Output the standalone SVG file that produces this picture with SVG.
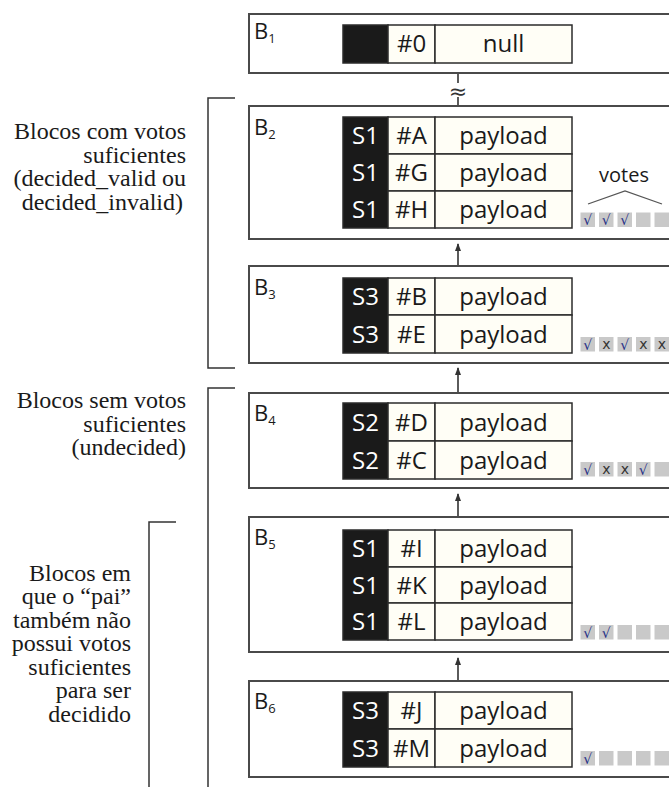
<svg xmlns="http://www.w3.org/2000/svg" width="669" height="787" viewBox="0 0 669 787">
  <style>
    .box { fill: #ffffff; stroke: #4a4a4a; stroke-width: 2; }
    .cell { fill: #fffef6; stroke: #2b2b2b; stroke-width: 1.5; }
    .srv { fill: #1a1a1a; stroke: #2b2b2b; stroke-width: 1.5; }
    .t { font-family: "Open Sans", "Noto Sans", sans-serif; font-size: 24px; fill: #1a1a1a; text-anchor: middle; }
    .tw { font-family: "Open Sans", "Noto Sans", sans-serif; font-size: 24px; fill: #ffffff; text-anchor: middle; }
    .lbl { font-family: "Open Sans", "Noto Sans", sans-serif; font-size: 22px; fill: #1a1a1a; }
    .sub { font-size: 13px; }
    .vote { fill: #c9c9c9; }
    .ok { font-family: "DejaVu Sans", sans-serif; font-size: 14px; fill: #1f2f86; text-anchor: middle; }
    .no { font-family: "DejaVu Sans", sans-serif; font-size: 14px; fill: #333333; text-anchor: middle; }
    .note { font-family: "Liberation Serif", "Times New Roman", serif; font-size: 24px; fill: #1a1a1a; text-anchor: end; }
    .wire { stroke: #333333; stroke-width: 1.6; fill: none; }
    .brace { stroke: #333333; stroke-width: 1.5; fill: none; }
  </style>
  <defs>
    <marker id="head" markerWidth="10" markerHeight="10" refX="7" refY="3.5" orient="auto" markerUnits="userSpaceOnUse">
      <path d="M0,0.5 L8,3.5 L0,6.5 z" fill="#333333"/>
    </marker>
  </defs>

  <rect width="669" height="787" fill="#ffffff"/>

  <!-- side notes with brackets -->
  <g id="note-decided">
    <path class="brace" d="M235,98 H208 V368 H235"/>
    <text class="note" x="186" y="139">Blocos com votos</text>
    <text class="note" x="186" y="163">suficientes</text>
    <text class="note" x="186" y="186">(decided_valid ou</text>
    <text class="note" x="183" y="210">decided_invalid)</text>
  </g>
  <g id="note-undecided">
    <path class="brace" d="M235,388 H208 V790"/>
    <text class="note" x="186" y="408">Blocos sem votos</text>
    <text class="note" x="186" y="432">suficientes</text>
    <text class="note" x="186" y="455">(undecided)</text>
  </g>
  <g id="note-parent">
    <path class="brace" d="M176,522 H149 V790"/>
    <text class="note" x="131" y="581">Blocos em</text>
    <text class="note" x="131" y="604">que o “pai”</text>
    <text class="note" x="131" y="628">também não</text>
    <text class="note" x="131" y="651">possui votos</text>
    <text class="note" x="131" y="675">suficientes</text>
    <text class="note" x="131" y="698">para ser</text>
    <text class="note" x="131" y="722">decidido</text>
  </g>

  <!-- links between blocks -->
  <g id="connectors">
    <line class="wire" x1="458" y1="73" x2="458" y2="83"/>
    <text x="458" y="99" font-family="DejaVu Sans, sans-serif" font-size="22" fill="#333333" text-anchor="middle">≈</text>
    <line class="wire" x1="458" y1="97" x2="458" y2="106"/>
    <line class="wire" x1="458" y1="266" x2="458" y2="244" marker-end="url(#head)"/>
    <line class="wire" x1="458" y1="393" x2="458" y2="368" marker-end="url(#head)"/>
    <line class="wire" x1="458" y1="517" x2="458" y2="494" marker-end="url(#head)"/>
    <line class="wire" x1="458" y1="681" x2="458" y2="658" marker-end="url(#head)"/>
  </g>

  <!-- B1 -->
  <g id="B1">
    <rect class="box" x="249" y="14" width="470" height="59"/>
    <text class="lbl" x="254" y="39">B<tspan class="sub" dy="4">1</tspan></text>
    <rect class="srv" x="343" y="25" width="45" height="38"/>
    <rect class="cell" x="388" y="25" width="47" height="38"/>
    <rect class="cell" x="435" y="25" width="137" height="38"/>
    <text class="t" x="411.5" y="52">#0</text>
    <text class="t" x="503.5" y="52">null</text>
  </g>

  <!-- B2 -->
  <g id="B2">
    <rect class="box" x="249" y="106" width="470" height="133"/>
    <text class="lbl" x="254" y="135">B<tspan class="sub" dy="4">2</tspan></text>
    <rect class="srv" x="343" y="117" width="45" height="111"/>
    <rect class="cell" x="388" y="117" width="47" height="37"/>
    <rect class="cell" x="435" y="117" width="137" height="37"/>
    <rect class="cell" x="388" y="154" width="47" height="37"/>
    <rect class="cell" x="435" y="154" width="137" height="37"/>
    <rect class="cell" x="388" y="191" width="47" height="37"/>
    <rect class="cell" x="435" y="191" width="137" height="37"/>
    <text class="tw" x="365.5" y="144">S1</text><text class="t" x="411.5" y="144">#A</text><text class="t" x="503.5" y="144">payload</text>
    <text class="tw" x="365.5" y="181">S1</text><text class="t" x="411.5" y="181">#G</text><text class="t" x="503.5" y="181">payload</text>
    <text class="tw" x="365.5" y="218">S1</text><text class="t" x="411.5" y="218">#H</text><text class="t" x="503.5" y="218">payload</text>
    <text x="624" y="182" font-family="Open Sans, Noto Sans, sans-serif" font-size="20" fill="#1a1a1a" text-anchor="middle">votes</text>
    <path d="M588,204 L625,191 L662,204" stroke="#555555" stroke-width="1.3" fill="none"/>
    <rect class="vote" x="580.5" y="212.5" width="14.5" height="14.5"/>
    <rect class="vote" x="599" y="212.5" width="14.5" height="14.5"/>
    <rect class="vote" x="617.5" y="212.5" width="14.5" height="14.5"/>
    <rect class="vote" x="636" y="212.5" width="14.5" height="14.5"/>
    <rect class="vote" x="654.5" y="212.5" width="14.5" height="14.5"/>
    <text class="ok" x="587.8" y="225">√</text>
    <text class="ok" x="606.3" y="225">√</text>
    <text class="ok" x="624.8" y="225">√</text>
  </g>

  <!-- B3 -->
  <g id="B3">
    <rect class="box" x="249" y="266" width="470" height="97"/>
    <text class="lbl" x="254" y="295">B<tspan class="sub" dy="4">3</tspan></text>
    <rect class="srv" x="343" y="278" width="45" height="75"/>
    <rect class="cell" x="388" y="278" width="47" height="37"/>
    <rect class="cell" x="435" y="278" width="137" height="37"/>
    <rect class="cell" x="388" y="315" width="47" height="38"/>
    <rect class="cell" x="435" y="315" width="137" height="38"/>
    <text class="tw" x="365.5" y="305">S3</text><text class="t" x="411.5" y="305">#B</text><text class="t" x="503.5" y="305">payload</text>
    <text class="tw" x="365.5" y="343">S3</text><text class="t" x="411.5" y="343">#E</text><text class="t" x="503.5" y="343">payload</text>
    <rect class="vote" x="580.5" y="337" width="14.5" height="14.5"/>
    <rect class="vote" x="599" y="337" width="14.5" height="14.5"/>
    <rect class="vote" x="617.5" y="337" width="14.5" height="14.5"/>
    <rect class="vote" x="636" y="337" width="14.5" height="14.5"/>
    <rect class="vote" x="654.5" y="337" width="14.5" height="14.5"/>
    <text class="ok" x="587.8" y="349.5">√</text>
    <text class="no" x="606.3" y="349">x</text>
    <text class="ok" x="624.8" y="349.5">√</text>
    <text class="no" x="643.3" y="349">x</text>
    <text class="no" x="661.8" y="349">x</text>
  </g>

  <!-- B4 -->
  <g id="B4">
    <rect class="box" x="249" y="393" width="470" height="95"/>
    <text class="lbl" x="254" y="421">B<tspan class="sub" dy="4">4</tspan></text>
    <rect class="srv" x="343" y="403" width="45" height="76"/>
    <rect class="cell" x="388" y="403" width="47" height="38"/>
    <rect class="cell" x="435" y="403" width="137" height="38"/>
    <rect class="cell" x="388" y="441" width="47" height="38"/>
    <rect class="cell" x="435" y="441" width="137" height="38"/>
    <text class="tw" x="365.5" y="431">S2</text><text class="t" x="411.5" y="431">#D</text><text class="t" x="503.5" y="431">payload</text>
    <text class="tw" x="365.5" y="469">S2</text><text class="t" x="411.5" y="469">#C</text><text class="t" x="503.5" y="469">payload</text>
    <rect class="vote" x="580.5" y="462" width="14.5" height="14.5"/>
    <rect class="vote" x="599" y="462" width="14.5" height="14.5"/>
    <rect class="vote" x="617.5" y="462" width="14.5" height="14.5"/>
    <rect class="vote" x="636" y="462" width="14.5" height="14.5"/>
    <rect class="vote" x="654.5" y="462" width="14.5" height="14.5"/>
    <text class="ok" x="587.8" y="474.5">√</text>
    <text class="no" x="606.3" y="474">x</text>
    <text class="no" x="624.8" y="474">x</text>
    <text class="ok" x="643.3" y="474.5">√</text>
  </g>

  <!-- B5 -->
  <g id="B5">
    <rect class="box" x="249" y="517" width="470" height="135"/>
    <text class="lbl" x="254" y="545">B<tspan class="sub" dy="4">5</tspan></text>
    <rect class="srv" x="343" y="530" width="45" height="110"/>
    <rect class="cell" x="388" y="530" width="47" height="37"/>
    <rect class="cell" x="435" y="530" width="137" height="37"/>
    <rect class="cell" x="388" y="567" width="47" height="36"/>
    <rect class="cell" x="435" y="567" width="137" height="36"/>
    <rect class="cell" x="388" y="603" width="47" height="37"/>
    <rect class="cell" x="435" y="603" width="137" height="37"/>
    <text class="tw" x="365.5" y="557">S1</text><text class="t" x="411.5" y="557">#I</text><text class="t" x="503.5" y="557">payload</text>
    <text class="tw" x="365.5" y="593.5">S1</text><text class="t" x="411.5" y="593.5">#K</text><text class="t" x="503.5" y="593.5">payload</text>
    <text class="tw" x="365.5" y="630">S1</text><text class="t" x="411.5" y="630">#L</text><text class="t" x="503.5" y="630">payload</text>
    <rect class="vote" x="580.5" y="625" width="14.5" height="14.5"/>
    <rect class="vote" x="599" y="625" width="14.5" height="14.5"/>
    <rect class="vote" x="617.5" y="625" width="14.5" height="14.5"/>
    <rect class="vote" x="636" y="625" width="14.5" height="14.5"/>
    <rect class="vote" x="654.5" y="625" width="14.5" height="14.5"/>
    <text class="ok" x="587.8" y="637.5">√</text>
    <text class="ok" x="606.3" y="637.5">√</text>
  </g>

  <!-- B6 -->
  <g id="B6">
    <rect class="box" x="249" y="681" width="470" height="96"/>
    <text class="lbl" x="254" y="709">B<tspan class="sub" dy="4">6</tspan></text>
    <rect class="srv" x="343" y="692" width="45" height="75"/>
    <rect class="cell" x="388" y="692" width="47" height="37"/>
    <rect class="cell" x="435" y="692" width="137" height="37"/>
    <rect class="cell" x="388" y="729" width="47" height="38"/>
    <rect class="cell" x="435" y="729" width="137" height="38"/>
    <text class="tw" x="365.5" y="719">S3</text><text class="t" x="411.5" y="719">#J</text><text class="t" x="503.5" y="719">payload</text>
    <text class="tw" x="365.5" y="757">S3</text><text class="t" x="411.5" y="757">#M</text><text class="t" x="503.5" y="757">payload</text>
    <rect class="vote" x="580.5" y="751" width="14.5" height="14.5"/>
    <rect class="vote" x="599" y="751" width="14.5" height="14.5"/>
    <rect class="vote" x="617.5" y="751" width="14.5" height="14.5"/>
    <rect class="vote" x="636" y="751" width="14.5" height="14.5"/>
    <rect class="vote" x="654.5" y="751" width="14.5" height="14.5"/>
    <text class="ok" x="587.8" y="763.5">√</text>
  </g>
</svg>
